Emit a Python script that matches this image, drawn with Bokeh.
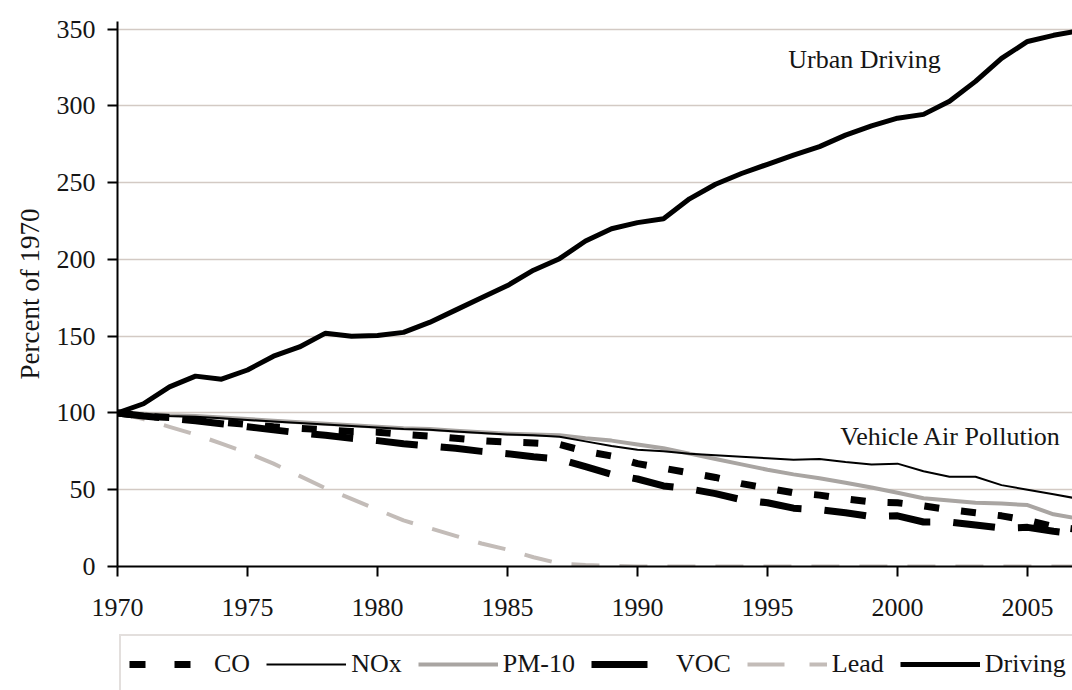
from bokeh.plotting import figure
from bokeh.models import Label, Legend, LegendItem, FixedTicker, Range1d
from bokeh.layouts import column
from bokeh.embed import file_html
from bokeh.resources import INLINE

years = [1970, 1971, 1972, 1973, 1974, 1975, 1976, 1977, 1978, 1979,
         1980, 1981, 1982, 1983, 1984, 1985, 1986, 1987, 1988, 1989,
         1990, 1991, 1992, 1993, 1994, 1995, 1996, 1997, 1998, 1999,
         2000, 2001, 2002, 2003, 2004, 2005, 2006, 2007]

driving = [100, 106, 117, 124, 122, 128, 137, 143, 152, 150,
           150.5, 152.5, 159, 167, 175, 183, 193, 200.5, 212, 220,
           224, 226.5, 239.5, 249, 256, 262, 268, 273.5, 281, 287,
           292, 294.5, 303, 316, 331, 342, 346, 349]

nox = [100, 99, 98, 97.5, 96.5, 95.5, 94.5, 93.5, 92.5, 91.5,
       90.5, 89.5, 89, 88, 87, 86, 85.5, 84.5, 81.5, 78.5,
       76, 75, 73.5, 72.5, 71.5, 70.5, 69.5, 70, 68, 66.5,
       67, 62, 58.5, 58.5, 53, 50, 47, 44]

pm10 = [100, 99.5, 98.5, 98, 97, 96, 95, 94, 93, 92,
        91, 90, 89.5, 88.5, 87.5, 86.5, 86, 85.5, 83.5, 82,
        79.5, 77, 73.5, 70, 66.5, 63, 60, 57.5, 54.5, 51.5,
        48, 44.5, 43, 41.5, 41, 40, 34, 31]

co = [100, 98, 97, 95.5, 94, 92.5, 91, 90, 89, 88,
      87.5, 86, 85, 83.5, 82, 81, 80.5, 79.5, 75, 72,
      67, 64, 61, 58, 54, 51, 48, 46.5, 44, 42,
      41.5, 39.5, 37, 35, 33, 30, 26, 24]

voc = [100, 98, 96.5, 95, 93, 91, 89, 87, 85.5, 83.5,
       82, 80, 78.5, 77, 75, 73.5, 71.5, 70, 65, 60,
       57, 52.5, 50.5, 47.5, 43.5, 41.5, 38, 37, 35, 32.5,
       33, 29, 29, 27, 25, 25.5, 23, 21]

lead = [100, 96, 91, 86, 80, 74, 67, 59, 51, 44,
        37, 30, 25, 20, 15, 11, 6, 2, 1, 0.5,
        0, 0, 0, 0, 0, 0, 0, 0, 0, 0,
        0, 0, 0, 0, 0, 0, 0, 0]

x_ticks = [1970, 1975, 1980, 1985, 1990, 1995, 2000, 2005]
y_ticks = [0, 50, 100, 150, 200, 250, 300, 350]

series_names = ["CO", "NOx", "PM-10", "VOC", "Lead", "Driving"]

FONT = "Liberation Serif"
TXT = "#151515"

styles = {
    "Lead": dict(line_color="#c3bcb8", line_width=4, line_dash="28 20"),
    "PM-10": dict(line_color="#a9a5a2", line_width=4, line_join="round"),
    "NOx": dict(line_color="black", line_width=2, line_join="round"),
    "VOC": dict(line_color="black", line_width=7, line_dash="42 23"),
    "CO": dict(line_color="black", line_width=7, line_dash="15 22"),
    "Driving": dict(line_color="black", line_width=5, line_join="round"),
}
# dash patterns as they appear in the legend samples
legend_dash = {"CO": "16 29", "VOC": "56 30", "Lead": "37 25"}

values = {"CO": co, "NOx": nox, "PM-10": pm10, "VOC": voc,
          "Lead": lead, "Driving": driving}
draw_order = ["Lead", "PM-10", "NOx", "VOC", "CO", "Driving"]

p = figure(width=1072, height=632,
           x_range=Range1d(1970, 2006.73), y_range=Range1d(0, 355),
           output_backend="svg", toolbar_location=None,
           min_border_left=117, min_border_right=0,
           min_border_top=21, min_border_bottom=66)
p.outline_line_color = None
p.background_fill_color = "white"
p.border_fill_color = "white"

p.xgrid.visible = False
p.ygrid.ticker = FixedTicker(ticks=y_ticks)
p.ygrid.grid_line_color = "#d3cac4"
p.ygrid.grid_line_width = 1.5

for ax in (p.xaxis[0], p.yaxis[0]):
    ax.axis_line_color = "black"
    ax.axis_line_width = 2
    ax.major_tick_line_color = "black"
    ax.major_tick_line_width = 2
    ax.major_tick_out = 10
    ax.major_tick_in = 0
    ax.minor_tick_line_color = None
    ax.major_label_text_font = FONT
    ax.major_label_text_font_size = "26px"
    ax.major_label_text_color = TXT

p.xaxis.ticker = FixedTicker(ticks=x_ticks)
p.yaxis.ticker = FixedTicker(ticks=y_ticks)
p.xaxis.major_label_standoff = 22
p.yaxis.major_label_standoff = 12
p.yaxis.axis_label = "Percent of 1970"
p.yaxis.axis_label_text_font = FONT
p.yaxis.axis_label_text_font_size = "27px"
p.yaxis.axis_label_text_font_style = "normal"
p.yaxis.axis_label_text_color = TXT
p.yaxis.axis_label_standoff = 9

for name in draw_order:
    p.line(years, values[name], **styles[name])

p.add_layout(Label(x=1995.8, y=330, text="Urban Driving", text_font=FONT,
                   text_font_size="26px", text_color=TXT, text_baseline="alphabetic"))
p.add_layout(Label(x=1997.8, y=84.5, text="Vehicle Air Pollution", text_font=FONT,
                   text_font_size="26px", text_color=TXT, text_baseline="alphabetic"))

# legend strip below the chart (its lines lie outside its own ranges)
lg = figure(width=1072, height=58, output_backend="svg", toolbar_location=None,
            x_axis_location=None, y_axis_location=None, min_border=0,
            x_range=Range1d(0, 1), y_range=Range1d(0, 1))
lg.outline_line_color = None
lg.grid.visible = False
items = []
for name in series_names:
    st = dict(styles[name])
    if name in legend_dash:
        st["line_dash"] = legend_dash[name]
    r = lg.line(years, values[name], **st)
    items.append(LegendItem(label=name, renderers=[r]))

legend = Legend(items=items, location=(2, -4), orientation="horizontal",
                glyph_width=80, glyph_height=40, label_height=40,
                label_standoff=5, spacing=16, padding=8, margin=0,
                border_line_color="#c8c0bb", border_line_width=2,
                background_fill_color="white", background_fill_alpha=1,
                label_text_font=FONT, label_text_font_size="26px",
                label_text_color=TXT)
lg.add_layout(legend)

layout = column(p, lg, spacing=0)
open("out.html", "w").write(file_html(layout, INLINE))
